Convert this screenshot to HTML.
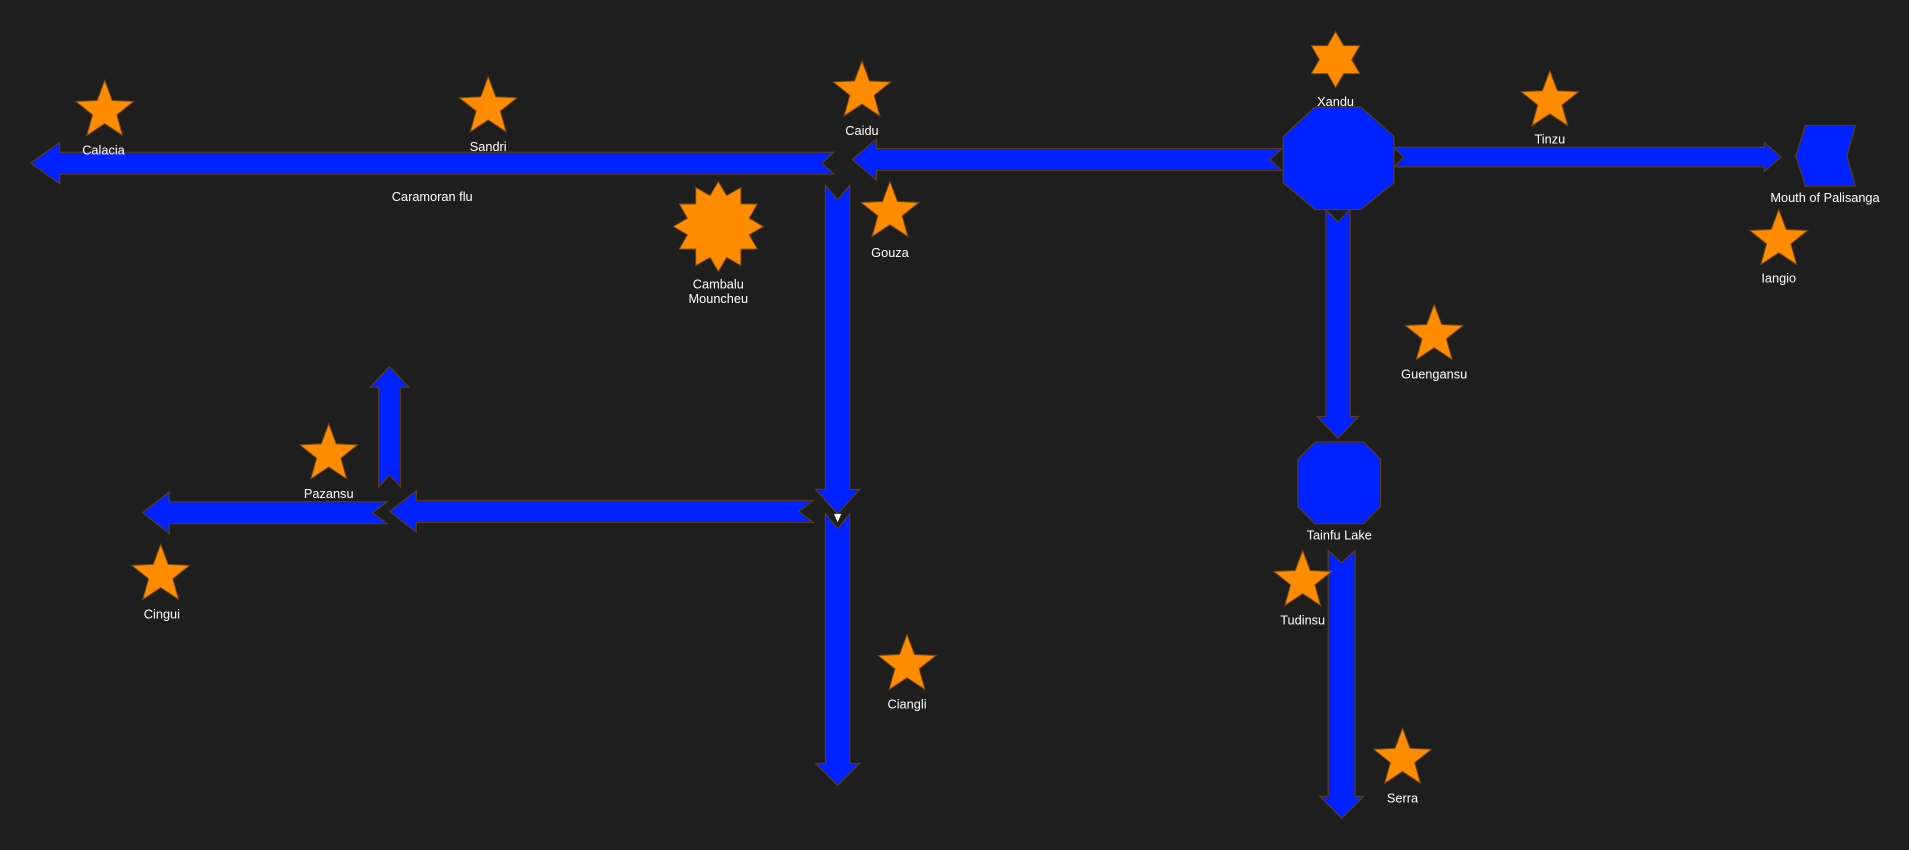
<!DOCTYPE html>
<html><head><meta charset="utf-8"><style>
html,body{margin:0;padding:0;background:#1e1e1e;}
svg{display:block}
text{font-family:"Liberation Sans",sans-serif;font-size:10.5px;fill:#fff;text-anchor:middle}
</style></head><body>
<svg width="1909" height="850" viewBox="0 0 1568 698" preserveAspectRatio="none">
<defs>
<polygon id="s5" points="0,-1 0.247,-0.34 0.951,-0.309 0.399,0.13 0.588,0.809 0,0.42 -0.588,0.809 -0.399,0.13 -0.951,-0.309 -0.247,-0.34" fill="#ff8c00" stroke="#7a4a10" stroke-width="1" vector-effect="non-scaling-stroke"/>
</defs>
<rect width="1568" height="698" fill="#1e1e1e"/>
<g fill="#0022ff" stroke="#5a3a1a" stroke-width="1">
<polygon points="25,134 49,117 49,125 685,125 675,134 685,143 49,143 49,151"/>
<polygon points="700,131 720,114 720,122 1053,122 1043,131 1053,140 720,140 720,148"/>
<polygon points="1463,129 1449,117 1449,121 1145,121 1153,129 1145,137 1449,137 1449,141"/>
<polygon points="688,422 670,402 678,402 678,152 688,164 698,152 698,402 706,402"/>
<polygon points="688,645 670,627 678,627 678,422 688,434 698,422 698,627 706,627"/>
<polygon points="320,420 342,403 342,411 668,411 656,420 668,429 342,429 342,437"/>
<polygon points="117,421 139,404 139,412 318,412 306,421 318,430 139,430 139,438"/>
<polygon points="320,301 304,318 311,318 311,400 320,390 329,400 329,318 336,318"/>
<polygon points="1099,360 1082,342 1089,342 1089,172 1099,182 1109,172 1109,342 1116,342"/>
<polygon points="1102,672 1084,654 1091,654 1091,452 1102,462 1113,452 1113,654 1120,654"/>
<polygon points="1080,88 1118,88 1145,112 1145,150 1118,172 1080,172 1054,150 1054,112"/>
<polygon points="1080,363 1120,363 1134,377 1134,416 1120,430 1080,430 1066,416 1066,377"/>
<polygon points="1483,103 1524,103 1517,128 1524,153 1483,153 1475,128"/>
</g>
<polygon points="685,422 691,422 688,429" fill="#fff"/>
<use href="#s5" transform="translate(86,91) scale(25)"/>
<use href="#s5" transform="translate(401,88) scale(25)"/>
<use href="#s5" transform="translate(708,75) scale(25)"/>
<use href="#s5" transform="translate(731,174) scale(25)"/>
<use href="#s5" transform="translate(1273,83) scale(25)"/>
<use href="#s5" transform="translate(1461,197) scale(25)"/>
<use href="#s5" transform="translate(1178,275) scale(25)"/>
<use href="#s5" transform="translate(270,373) scale(25)"/>
<use href="#s5" transform="translate(132,472) scale(25)"/>
<use href="#s5" transform="translate(1070,477) scale(25)"/>
<use href="#s5" transform="translate(745,546) scale(25)"/>
<use href="#s5" transform="translate(1152,623) scale(25)"/>
<polygon transform="translate(1097,49) scale(23)" points="0,-1 0.289,-0.5 0.866,-0.5 0.577,0 0.866,0.5 0.289,0.5 0,1 -0.289,0.5 -0.866,0.5 -0.577,0 -0.866,-0.5 -0.289,-0.5" fill="#ff8c00" stroke="#7a4a10" stroke-width="1" vector-effect="non-scaling-stroke"/>
<polygon transform="translate(590,186) scale(37)" points="1,0 .686,.184 .866,.5 .502,.502 .5,.866 .184,.686 0,1 -.184,.686 -.5,.866 -.502,.502 -.866,.5 -.686,.184 -1,0 -.686,-.184 -.866,-.5 -.502,-.502 -.5,-.866 -.184,-.686 0,-1 .184,-.686 .5,-.866 .502,-.502 .866,-.5 .686,-.184" fill="#ff8c00" stroke="#7a4a10" stroke-width="1" vector-effect="non-scaling-stroke"/>
<text x="85" y="127">Calacia</text>
<text x="401" y="124">Sandri</text>
<text x="708" y="111">Caidu</text>
<text x="355" y="165">Caramoran flu</text>
<text x="731" y="211">Gouza</text>
<text x="590" y="237">Cambalu</text>
<text x="590" y="249">Mouncheu</text>
<text x="1097" y="87">Xandu</text>
<text x="1273" y="118">Tinzu</text>
<text x="1499" y="166">Mouth of Palisanga</text>
<text x="1461" y="232">Iangio</text>
<text x="1178" y="311">Guengansu</text>
<text x="270" y="409">Pazansu</text>
<text x="133" y="508">Cingui</text>
<text x="1100" y="443">Tainfu Lake</text>
<text x="1070" y="513">Tudinsu</text>
<text x="745" y="582">Ciangli</text>
<text x="1152" y="659">Serra</text>
</svg>
</body></html>
